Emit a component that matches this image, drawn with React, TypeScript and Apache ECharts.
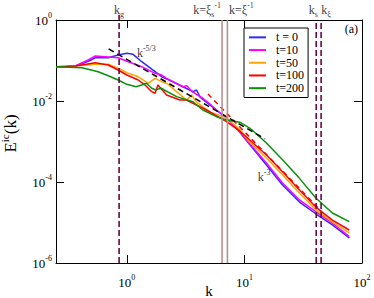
import React, { useEffect, useRef } from 'react';
import * as echarts from 'echarts';

const serif = "'Liberation Serif', 'DejaVu Serif', serif";

const seriesNames = ['t = 0', 't=10', 't=50', 't=100', 't=200'];
const seriesColors = ['#2b2bff', '#ff00ff', '#ffa500', '#ff0000', '#0c900c'];

const kT0 = [0.25, 0.3, 0.365, 0.47, 0.54, 0.695, 0.844, 1.0, 1.13, 1.34, 1.74, 1.98, 2.4, 3.0, 3.65, 3.92, 4.2, 5.08, 7.04, 9.12, 10, 15.4, 21.1, 29.4, 40.7, 56, 78];
const eT0 = [0.0703, 0.0703, 0.0731, 0.095, 0.117, 0.117, 0.137, 0.151, 0.142, 0.0934, 0.0529, 0.0398, 0.031, 0.0225, 0.017, 0.0187, 0.0125, 0.008, 0.0038, 0.00172, 0.00122, 0.000263, 8.43e-5, 3.2e-5, 1.62e-5, 8.7e-6, 4.14e-6];

const kT10 = [0.25, 0.3, 0.365, 0.47, 0.54, 0.655, 0.844, 1.03, 1.34, 1.74, 1.98, 2.18, 2.65, 3.0, 3.22, 3.65, 4.43, 5.08, 5.79, 7.04, 9.12, 10, 15.4, 21.1, 29.4, 40.7, 56, 78];
const eT10 = [0.0703, 0.0703, 0.0731, 0.103, 0.129, 0.124, 0.117, 0.0934, 0.0703, 0.0483, 0.0438, 0.036, 0.027, 0.0225, 0.024, 0.0165, 0.0117, 0.0085, 0.006, 0.0038, 0.0018, 0.00125, 0.000294, 9.45e-5, 3.6e-5, 1.82e-5, 9.7e-6, 4.46e-6];

const kT50 = [0.25, 0.365, 0.54, 0.695, 0.844, 1.03, 1.25, 1.52, 1.74, 1.98, 2.18, 2.65, 3.22, 3.55, 3.9, 5.08, 7.04, 9.12, 11.1, 15.4, 21.1, 29.4, 40.7, 56, 78];
const eT50 = [0.0703, 0.0731, 0.0805, 0.0805, 0.0642, 0.0483, 0.0398, 0.0274, 0.0363, 0.03, 0.0274, 0.017, 0.0106, 0.0141, 0.0095, 0.0054, 0.0038, 0.002, 0.00097, 0.000392, 0.000149, 5.35e-5, 2.04e-5, 1.03e-5, 5.51e-6];

const kT100 = [0.25, 0.365, 0.54, 0.695, 0.844, 1.0, 1.25, 1.43, 1.63, 1.74, 1.84, 2.18, 2.83, 3.22, 4.76, 7.04, 9.12, 11.1, 15.4, 21.1, 29.4, 40.7, 56, 78];
const eT100 = [0.0703, 0.0731, 0.0883, 0.0774, 0.0582, 0.0438, 0.033, 0.0248, 0.017, 0.0155, 0.0248, 0.0141, 0.0106, 0.0106, 0.006, 0.0031, 0.00182, 0.00109, 0.000464, 0.00018, 6.34e-5, 2.37e-5, 1.15e-5, 6.53e-6];

const kT200 = [0.25, 0.416, 0.571, 0.695, 0.844, 1.0, 1.2, 1.34, 1.47, 1.63, 1.74, 1.98, 2.08, 2.65, 3.65, 4.43, 5.79, 7.04, 9.12, 11.1, 15.4, 21.2, 29.4, 40.7, 56, 78];
const eT200 = [0.0703, 0.0664, 0.0529, 0.0421, 0.033, 0.0258, 0.0225, 0.0248, 0.0274, 0.0206, 0.019, 0.0206, 0.0187, 0.0128, 0.0096, 0.006, 0.0041, 0.0034, 0.003, 0.00215, 0.00092, 0.000349, 0.000123, 3.96e-5, 1.72e-5, 1.05e-5];

const kValues = [kT0, kT10, kT50, kT100, kT200];
const eValues = [eT0, eT10, eT50, eT100, eT200];

// power-law guide lines (end points)
const guideK53 = [0.7, 15];
const guideE53 = [0.194, 0.00116];
const guideK3 = [4.9, 45];
const guideE3 = [0.0149, 1.92e-5];

// vertical marker wavenumbers
const markerK = [0.86, 6.46, 7.17, 40.8, 44.9];
const markerKind = ['dash', 'solid', 'solid', 'dash', 'dash'];
const markerLabels = ['{m|k}{sub|g}', '{m|k=ξ}{sub|s}{sup|-1}', '{m|k=ξ}{sup|-1}', '{m|k}{sub|s}', '{m|k}{sub|ξ}'];
const markerLabelOffsets = [0, -15, 14, -3, 5];

const tickRich = {
  b: { fontSize: 13, fontFamily: serif, color: '#000', lineHeight: 18 },
  s: { fontSize: 8, fontFamily: serif, color: '#000', verticalAlign: 'top' },
};
const annotRich = {
  m: { fontSize: 12, fontFamily: serif, color: '#000', lineHeight: 17 },
  sub: { fontSize: 8, fontFamily: serif, color: '#000', verticalAlign: 'bottom' },
  sup: { fontSize: 8, fontFamily: serif, color: '#000', verticalAlign: 'top' },
};

function decadeLabel(v: number) {
  const lg = Math.log10(v);
  const e = Math.round(lg);
  if (Math.abs(lg - e) > 1e-6) return '';
  return `{b|10}{s|${e}}`;
}

export default function App() {
  const ref = useRef<HTMLDivElement>(null);
  useEffect(() => {
    if (!ref.current) return;
    const chart = echarts.init(ref.current, null, { renderer: 'svg' });
    const curveSeries = seriesNames.map((name, i) => ({
      name,
      type: 'line',
      data: kValues[i].map((k, j) => [k, eValues[i][j]]),
      showSymbol: false,
      symbol: 'none',
      color: seriesColors[i],
      lineStyle: { width: 1.5, color: seriesColors[i] },
      z: 2 + i,
    }));
    const markerSeries = markerK.map((k, i) => ({
      type: 'line',
      data: [[k, 1e-6], [k, i === 0 ? 1.35 : 1]],
      showSymbol: false,
      symbol: 'none',
      silent: true,
      clip: false,
      lineStyle: markerKind[i] === 'dash'
        ? { width: 1.6, color: '#670748', type: [6, 3] }
        : { width: 1.6, color: '#bc8f8f' },
      z: 10,
    }));
    const option: any = {
      animation: false,
      grid: { left: 56, right: 12, top: 20, bottom: 35, outerBoundsMode: 'none', containLabel: false },
      legend: {
        data: seriesNames,
        orient: 'vertical',
        left: 244,
        top: 28,
        backgroundColor: '#fff',
        borderColor: '#000',
        borderWidth: 1,
        borderRadius: 0,
        padding: [3, 4, 3, 5],
        itemGap: 0,
        itemWidth: 17,
        itemHeight: 2,
        icon: 'rect',
        textStyle: { fontFamily: serif, fontSize: 12, color: '#000', lineHeight: 12.7, padding: [0, 0, 0, 5] },
        z: 20,
      },
      xAxis: [
        {
          type: 'log', logBase: 10, min: 0.25, max: 100, position: 'bottom',
          axisLine: { lineStyle: { color: '#000', width: 1 } },
          axisTick: { inside: true, length: 8, lineStyle: { color: '#000' } },
          axisLabel: { formatter: decadeLabel, rich: tickRich, color: '#000', margin: 10, showMinLabel: false },
          splitLine: { show: false },
          minorTick: { show: false },
          name: 'k', nameLocation: 'middle', nameGap: 22, nameMoveOverlap: false,
          nameTextStyle: { fontFamily: serif, fontSize: 15, lineHeight: 12, color: '#000' },
        },
        {
          type: 'log', logBase: 10, min: 0.25, max: 100, position: 'top',
          axisLine: { lineStyle: { color: '#000', width: 1 } },
          axisTick: { inside: true, length: 8, lineStyle: { color: '#000' } },
          axisLabel: { show: false },
          splitLine: { show: false },
        },
      ],
      yAxis: [
        {
          type: 'log', logBase: 10, min: 1e-6, max: 1, interval: 2, position: 'left',
          axisLine: { show: true, lineStyle: { color: '#000', width: 1 } },
          axisTick: { show: true, inside: true, length: 8, lineStyle: { color: '#000' } },
          axisLabel: { formatter: decadeLabel, rich: tickRich, color: '#000', margin: 4 },
          splitLine: { show: false },
          name: '{b|E}{s|ic}{b|(k)}', nameLocation: 'middle', nameGap: 35, nameRotate: 90, nameMoveOverlap: false,
          nameTextStyle: {
            color: '#000',
            padding: [0, 0, 0, 16],
            rich: {
              b: { fontSize: 17, fontFamily: serif, color: '#000', lineHeight: 22 },
              s: { fontSize: 11, fontFamily: serif, color: '#000', verticalAlign: 'top' },
            },
          },
        },
        {
          type: 'log', logBase: 10, min: 1e-6, max: 1, interval: 2, position: 'right',
          axisLine: { show: true, lineStyle: { color: '#000', width: 1 } },
          axisTick: { show: true, inside: true, length: 8, lineStyle: { color: '#000' } },
          axisLabel: { show: false },
          splitLine: { show: false },
        },
      ],
      graphic: [
        { type: 'text', right: 16, top: 23, style: { text: '(a)', font: `12px ${serif}`, fill: '#000' }, z: 30 },
      ],
      series: [
        ...curveSeries,
        {
          type: 'line', data: guideK53.map((k, j) => [k, guideE53[j]]), showSymbol: false, symbol: 'none', silent: true,
          lineStyle: { width: 1.5, color: '#000', type: [6, 4] }, z: 8,
        },
        {
          type: 'line', data: guideK3.map((k, j) => [k, guideE3[j]]), showSymbol: false, symbol: 'none', silent: true,
          lineStyle: { width: 1.5, color: '#ff0000', type: [5, 4] }, z: 1,
        },
        ...markerSeries,
        {
          type: 'scatter', symbolSize: 0, silent: true, clip: false, z: 25,
          data: markerK.map((k, i) => ({
            value: [k, 1],
            label: {
              show: true, position: 'top', distance: 2, formatter: markerLabels[i], rich: annotRich, color: '#000',
              offset: [markerLabelOffsets[i], 0],
            },
          })),
        },
        {
          type: 'scatter', symbolSize: 0, silent: true, clip: false, z: 25,
          data: [
            { value: [1.22, 0.153], label: { show: true, position: 'right', distance: 0, color: '#000', formatter: '{m|k}{sup|-5/3}', rich: annotRich } },
            { value: [13, 1.3e-4], label: { show: true, position: 'right', distance: 0, color: '#000', formatter: '{m|k}{sup|-3}', rich: annotRich } },
          ],
        },
      ],
    };
    chart.setOption(option);
    return () => chart.dispose();
  }, []);
  return <div ref={ref} style={{ width: 374, height: 298, position: 'absolute', left: 0, top: 0 }} />;
}
